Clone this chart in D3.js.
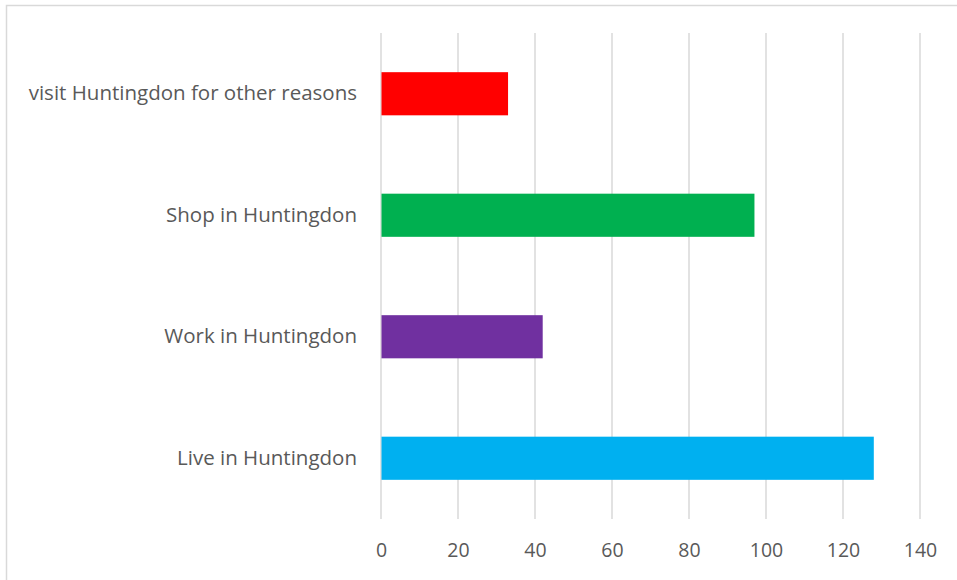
<!DOCTYPE html>
<html><head><meta charset="utf-8">
<script src="https://cdn.jsdelivr.net/npm/d3@7"></script>
<style>body{margin:0;background:#fff}svg{display:block}</style>
</head><body>
<svg id="c" width="957" height="580"></svg>
<script>
const categories = ["visit Huntingdon for other reasons","Shop in Huntingdon","Work in Huntingdon","Live in Huntingdon"];
const values = [33, 97, 42, 128];
const colors = ["#ff0000","#00b050","#7030a0","#00b0f0"];
const ticks = [0,20,40,60,80,100,120,140];

const svg = d3.select("#c");
const font = "'Open Sans', sans-serif";
const txt = "#595959";

svg.append("rect").attr("x",6.5).attr("y",5.5).attr("width",1000).attr("height",1000)
  .attr("fill","#fff").attr("stroke","#d9d9d9").attr("stroke-width",1.5);

const x = d3.scaleLinear().domain([0,140]).range([381,920]);
const y = d3.scaleBand().domain(categories).range([33,519]).paddingInner(0.645).paddingOuter(0.3225);

svg.append("g").selectAll("line").data(ticks).join("line")
  .attr("x1",d=>x(d)).attr("x2",d=>x(d)).attr("y1",33).attr("y2",519)
  .attr("stroke","#d9d9d9").attr("stroke-width",1.5);

svg.append("g").selectAll("rect").data(categories).join("rect")
  .attr("x",x(0)+0.5).attr("y",d=>y(d)).attr("height",y.bandwidth())
  .attr("width",(d,i)=>x(values[i])-x(0)-0.5).attr("fill",(d,i)=>colors[i]);

const xa = svg.append("g").attr("transform","translate(0,519)")
  .call(d3.axisBottom(x).tickValues(ticks).tickSize(0).tickPadding(24));
xa.select(".domain").remove();
xa.selectAll("text").attr("font-family",font).attr("font-size",19.5).attr("fill",txt);

const ya = svg.append("g").attr("transform","translate(381,0)")
  .call(d3.axisLeft(y).tickSize(0).tickPadding(24));
ya.select(".domain").remove();
ya.selectAll("text").attr("font-family",font).attr("font-size",20.5).attr("fill",txt);
</script>
</body></html>
